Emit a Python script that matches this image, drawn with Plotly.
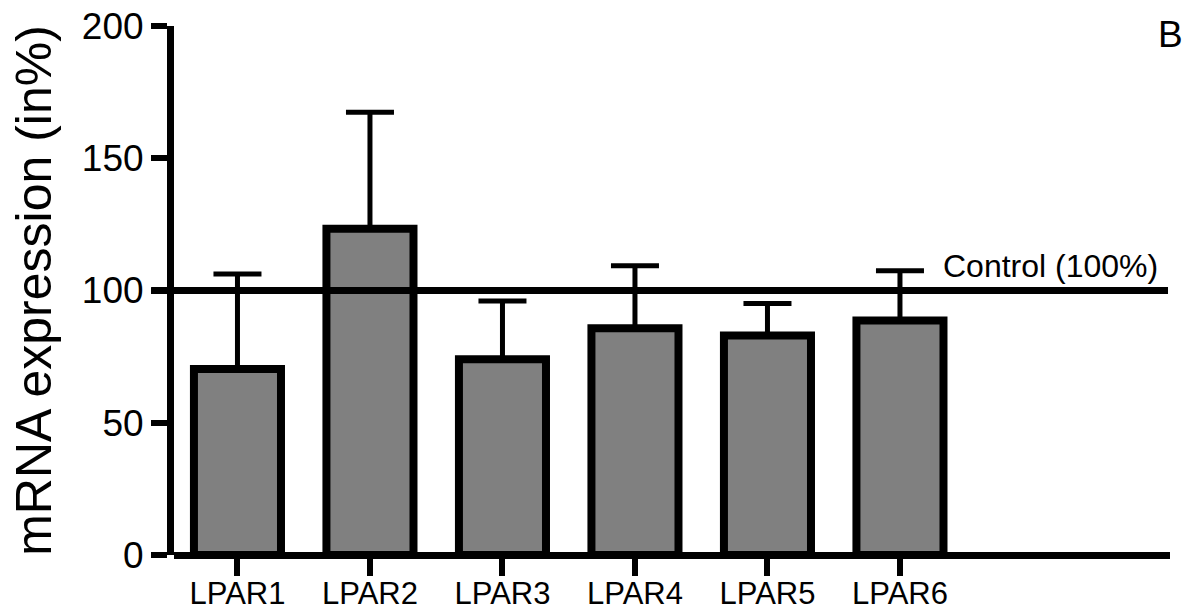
import plotly.graph_objects as go

categories = ["LPAR1", "LPAR2", "LPAR3", "LPAR4", "LPAR5", "LPAR6"]
mean_values = [70.3, 123.3, 74.0, 85.7, 83.0, 88.7]
sem_upper = [35.9, 44.1, 22.0, 23.7, 12.1, 18.8]
sem_lower = [0, 0, 0, 0, 0, 0]
control_value = 100
y_ticks = [0, 50, 100, 150, 200]

FONT = "Liberation Sans, Arial, Helvetica, sans-serif"

fig = go.Figure()
fig.add_trace(go.Bar(
    x=categories,
    y=mean_values,
    width=0.657,
    marker=dict(color="#808080", line=dict(color="black", width=8)),
    error_y=dict(type="data", symmetric=False, array=sem_upper, arrayminus=sem_lower,
                 color="black", thickness=5, width=24),
    showlegend=False,
))

fig.add_shape(type="line", xref="paper", yref="y",
              x0=-0.023, x1=0.998, y0=control_value, y1=control_value,
              line=dict(color="black", width=7))

fig.add_annotation(text="Control (100%)", xref="paper", yref="y",
                   x=0.99, y=control_value, xanchor="right", yanchor="bottom",
                   yshift=5, showarrow=False,
                   font=dict(family=FONT, size=32, color="black"))
fig.add_annotation(text="B", xref="paper", yref="paper",
                   x=1.0, y=0.983, xanchor="center", yanchor="middle",
                   showarrow=False, font=dict(family=FONT, size=37, color="black"))

fig.update_layout(
    width=1189, height=613,
    margin=dict(l=174, r=19, t=26, b=58),
    paper_bgcolor="white", plot_bgcolor="white",
    font=dict(family=FONT, color="black"),
    bargap=0.3,
)
fig.update_xaxes(
    type="category", range=[-0.479, 7.038], automargin=False,
    showline=False, showgrid=False, zeroline=False,
    ticks="outside", ticklen=20, tickwidth=6, tickcolor="black",
    ticklabelstandoff=-9,
    tickfont=dict(family=FONT, size=31, color="black"),
)
fig.update_yaxes(
    range=[0, 200], tickvals=y_ticks, ticktext=[str(v) for v in y_ticks],
    automargin=False,
    showline=True, linewidth=7, linecolor="black",
    showgrid=False, zeroline=True, zerolinewidth=7, zerolinecolor="black",
    ticks="outside", ticklen=16, tickwidth=6, tickcolor="black",
    tickfont=dict(family=FONT, size=37, color="black"),
    title=dict(text="mRNA expression (in%)", standoff=17,
               font=dict(family=FONT, size=50, color="black")),
)

fig.write_html("out.html")
